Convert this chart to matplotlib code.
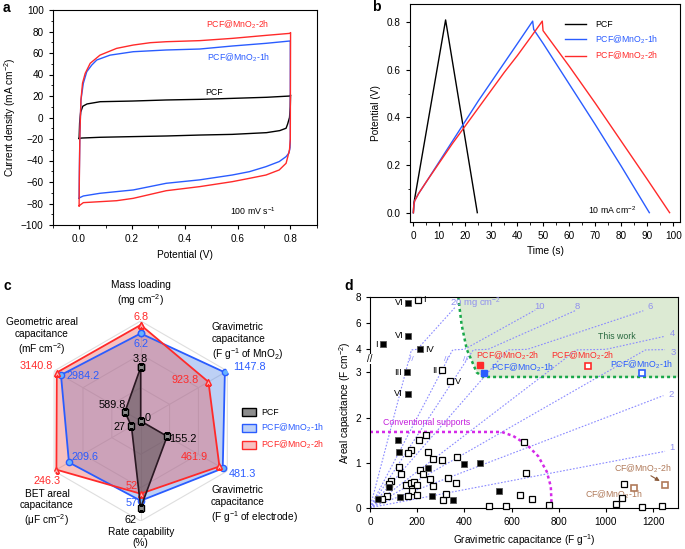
import numpy as np
import matplotlib
matplotlib.use("Agg")
import matplotlib.pyplot as plt
from matplotlib.patches import Patch
from matplotlib.ticker import MultipleLocator

plt.rcParams['font.family'] = ['Liberation Sans', 'DejaVu Sans']
plt.rcParams['mathtext.fontset'] = 'custom'
plt.rcParams['mathtext.rm'] = 'Liberation Sans'
plt.rcParams['mathtext.it'] = 'Liberation Sans:italic'
plt.rcParams['font.size'] = 7.2
plt.rcParams['axes.linewidth'] = 0.8
plt.rcParams['xtick.major.size'] = 3
plt.rcParams['ytick.major.size'] = 3
plt.rcParams['xtick.minor.size'] = 1.8
plt.rcParams['ytick.minor.size'] = 1.8

BLUE = '#2a5cff'
RED = '#ff2a2a'
MN1 = 'PCF@MnO$_2$-1h'
MN2 = 'PCF@MnO$_2$-2h'
LAB = 7.3   # axis label size
ANN = 6.3   # annotation size

# ---- panel a: CV loops at 100 mV/s ----
cv_pcf_x = [0, 0.002, 0.006, 0.014, 0.03, 0.08, 0.2, 0.33, 0.46, 0.58, 0.71, 0.8, 0.801,
            0.8, 0.797, 0.79, 0.784, 0.76, 0.71, 0.58, 0.46, 0.33, 0.2, 0.08, 0.01, 0]
cv_pcf_y = [-19.5, -5, 5, 10.5, 12.6, 14.7, 15.3, 16.3, 16.9, 17.8, 18.8, 20, 21,
            10, 0, -6, -10, -12.2, -14.1, -15.7, -16.3, -17.2, -17.8, -18.4, -19.1, -19.5]
cv_1h_x = [0, 0.001, 0.003, 0.007, 0.016, 0.029, 0.048, 0.067, 0.117, 0.205, 0.33, 0.457, 0.58,
           0.708, 0.8, 0.8, 0.799, 0.795, 0.784, 0.758, 0.708, 0.645, 0.58, 0.457, 0.33, 0.205,
           0.079, 0.016, 0.003, 0]
cv_1h_y = [-75.2, -50, -15, 16.3, 31.8, 42.6, 48.8, 53.5, 58, 61.2, 62.8, 63.7, 66.5,
           69, 71.2, -20, -28, -33, -36.4, -41, -45.7, -50.4, -53.5, -58, -61.2, -67.4,
           -70.5, -73, -74.5, -75.2]
cv_2h_x = [0, 0.001, 0.003, 0.007, 0.013, 0.023, 0.042, 0.079, 0.142, 0.205, 0.27, 0.33, 0.457,
           0.58, 0.708, 0.8, 0.801, 0.8, 0.797, 0.79, 0.784, 0.758, 0.708, 0.645, 0.58, 0.457,
           0.33, 0.205, 0.142, 0.079, 0.016, 0.004, 0]
cv_2h_y = [-82.2, -55, -15, 16.3, 32, 41, 50.4, 58, 64.3, 67.4, 69.6, 70.5, 71.5,
           73.6, 76.4, 78.3, 79, -20, -30, -37, -42.6, -48.8, -53.5, -56.6, -59.7, -64.3,
           -68.1, -75.2, -77.4, -78.3, -79.2, -81.4, -82.2]

# ---- panel b: GCD at 10 mA/cm2 ----
gcd_pcf_t = [0, 0.2, 12.4, 24.6]
gcd_pcf_v = [0, 0.04, 0.81, 0]
gcd_1h_t = [0, 0.15, 0.5, 2, 5, 10, 15, 20, 25, 30, 35, 40, 45.9, 46.3, 50, 60, 70, 80, 90.8]
gcd_1h_v = [0, 0.03, 0.05, 0.08, 0.13, 0.215, 0.3, 0.385, 0.47, 0.55, 0.63, 0.71, 0.805,
            0.77, 0.71, 0.54, 0.37, 0.195, 0]
gcd_2h_t = [0, 0.15, 0.5, 2, 5, 10, 15, 20, 25, 30, 35, 40, 45, 49.6, 49.9, 60, 70, 80, 90, 98.6]
gcd_2h_v = [0, 0.03, 0.05, 0.08, 0.13, 0.21, 0.29, 0.365, 0.44, 0.515, 0.59, 0.66, 0.735,
            0.805, 0.765, 0.615, 0.46, 0.3, 0.14, 0]

# ---- panel c: radar ----
radar_labels = ['Mass loading\n(mg cm$^{-2}$)',
                'Gravimetric\ncapacitance\n(F g$^{-1}$ of MnO$_2$)',
                'Gravimetric\ncapacitance\n(F g$^{-1}$ of electrode)',
                'Rate capability\n(%)',
                'BET areal\ncapacitance\n(\u03bcF cm$^{-2}$)',
                'Geometric areal\ncapacitance\n(mF cm$^{-2}$)']
radar_max = [7.08, 1181, 508, 71.5, 253, 3241]
radar_pcf = [3.8, 0, 155.2, 62, 27, 589.8]
radar_1h = [6.2, 1147.8, 481.3, 57, 209.6, 2984.2]
radar_2h = [6.8, 923.8, 461.9, 52, 246.3, 3140.8]
val_text_pcf = ['3.8', '0', '155.2', '62', '27', '589.8']
val_text_1h = ['6.2', '1147.8', '481.3', '57', '209.6', '2984.2']
val_text_2h = ['6.8', '923.8', '461.9', '52', '246.3', '3140.8']

# ---- panel d: areal vs gravimetric capacitance ----
lit_filled_x = [162, 162, 54, 212, 155, 160, 120, 124, 246, 399, 466, 79, 127, 33, 262, 353, 545]
lit_filled_y = [7.55, 5.05, 4.38, 4.0, 3.0, 2.53, 1.5, 1.23, 0.89, 0.98, 1.0, 0.45, 0.23, 0.2,
                0.25, 0.17, 0.38]
lit_open_x = [205, 306, 339, 237, 208, 174, 163, 246, 268, 307, 367, 124, 130, 213, 226, 88, 82,
              254, 268, 332, 364, 152, 172, 187, 201, 177, 163, 201, 308, 323, 71, 50, 654, 660,
              506, 575, 636, 685, 758, 1041, 1078, 1069, 1151, 1236]
lit_open_y = [7.8, 3.05, 2.8, 1.61, 1.50, 1.29, 1.21, 1.23, 1.09, 1.06, 1.12, 0.91, 0.75, 0.84,
              0.75, 0.60, 0.52, 0.63, 0.49, 0.65, 0.54, 0.51, 0.54, 0.58, 0.50, 0.38, 0.26, 0.28,
              0.17, 0.31, 0.26, 0.19, 1.45, 0.78, 0.03, 0.03, 0.28, 0.20, 0.05, 0.08, 0.53, 0.22,
              0.02, 0.03]
roman_text = ['VI', 'I', 'VI', 'I', 'IV', 'III', 'VI', 'II', 'V']
roman_x = [162, 205, 162, 54, 212, 155, 160, 306, 339]
roman_y = [7.55, 7.8, 5.05, 4.38, 4.0, 3.0, 2.53, 3.05, 2.8]
roman_side = ['l', 'r', 'l', 'l', 'r', 'l', 'l', 'l', 'r']
this_x_elec, this_y_elec = [465, 483], [3.16, 2.99]     # per electrode (2h, 1h)
this_x_mno2, this_y_mno2 = [925, 1152], [3.15, 2.99]    # per MnO2 (2h, 1h)
cf_x, cf_y = [1120, 1251], [0.44, 0.5]
mass_loadings = [1, 2, 3, 4, 6, 8, 10, 20]
mass_end_x = [1250, 1243, 1250, 1250, 1158, 875, 700, 360]
green_x = [374, 388, 410, 431, 452, 480, 1310]
green_y = [8, 5.9, 4.0, 3.26, 3.0, 2.9, 2.9]
conv_x = [0, 558, 607, 664, 713, 749, 766, 770]
conv_y = [1.68, 1.68, 1.59, 1.40, 1.14, 0.80, 0.47, 0]

W, H = 685, 549
fig = plt.figure(figsize=(W / 100, H / 100), dpi=100)


def rect(l, t, r, b):
    return [l / W, 1 - b / H, (r - l) / W, (b - t) / H]


# ================= a =================
ax = fig.add_axes(rect(52.7, 10, 316.7, 225))
ax.plot(cv_pcf_x, cv_pcf_y, color='k', lw=1)
ax.plot(cv_1h_x, cv_1h_y, color=BLUE, lw=1)
ax.plot(cv_2h_x, cv_2h_y, color=RED, lw=1)
ax.set_xlim(-0.1, 0.9)
ax.set_ylim(-100, 100)
ax.set_xticks([0, 0.2, 0.4, 0.6, 0.8])
ax.xaxis.set_minor_locator(MultipleLocator(0.1))
ax.yaxis.set_major_locator(MultipleLocator(20))
ax.yaxis.set_minor_locator(MultipleLocator(10))
ax.set_xlabel('Potential (V)', fontsize=LAB)
ax.set_ylabel('Current density (mA cm$^{-2}$)', fontsize=LAB, labelpad=2)
ax.text(0.6, 86, MN2, color=RED, ha='center', va='center', fontsize=ANN)
ax.text(0.604, 55.3, MN1, color=BLUE, ha='center', va='center', fontsize=ANN)
ax.text(0.513, 22.8, 'PCF', color='k', ha='center', va='center', fontsize=ANN)
ax.text(0.657, -87, '100 mV s$^{-1}$', ha='center', va='center', fontsize=ANN)

# ================= b =================
ax = fig.add_axes(rect(410, 4, 680, 221.7))
ax.plot(gcd_pcf_t, gcd_pcf_v, color='k', lw=1, label='PCF')
ax.plot(gcd_1h_t, gcd_1h_v, color=BLUE, lw=1, label=MN1)
ax.plot(gcd_2h_t, gcd_2h_v, color=RED, lw=1, label=MN2)
ax.set_xlim(-1.3, 102.6)
ax.set_ylim(-0.038, 0.877)
ax.xaxis.set_major_locator(MultipleLocator(10))
ax.xaxis.set_minor_locator(MultipleLocator(5))
ax.yaxis.set_major_locator(MultipleLocator(0.2))
ax.yaxis.set_minor_locator(MultipleLocator(0.1))
ax.set_xlabel('Time (s)', fontsize=LAB)
ax.set_ylabel('Potential (V)', fontsize=LAB)
ax.text(76.4, 0.012, '10 mA cm$^{-2}$', ha='center', va='center', fontsize=ANN)
leg = ax.legend(loc='upper left', bbox_to_anchor=(561 / W, 1 - 16 / H),
                bbox_transform=fig.transFigure, frameon=False, fontsize=ANN,
                handlelength=2.4, labelspacing=0.45, borderpad=0, handletextpad=1.0)
for txt, c in zip(leg.get_texts(), ['k', BLUE, RED]):
    txt.set_color(c)

# ================= c =================
cx, cy, R = 140.7, 421, 100
axr = fig.add_axes(rect(cx - R, cy - R, cx + R, cy + R), projection='polar')
axr.set_theta_zero_location('N')
axr.set_theta_direction(-1)
axr.set_ylim(0, 1)
axr.axis('off')
ang = np.deg2rad(np.arange(6) * 60.0)
ang_c = np.append(ang, ang[0])
for rr in [1 / 3, 2 / 3, 1.0]:
    axr.plot(ang_c, [rr] * 7, color='#dedede', lw=0.8, zorder=1)
for a in ang:
    axr.plot([a, a], [0, 1], color='#dedede', lw=0.8, zorder=1)


def norm(vals):
    return np.append(np.array(vals) / np.array(radar_max), vals[0] / radar_max[0])


r_pcf, r_1h, r_2h = norm(radar_pcf), norm(radar_1h), norm(radar_2h)
axr.fill(ang_c, r_1h, color='#5a8ae8', alpha=0.4, lw=0, zorder=2)
axr.fill(ang_c, r_2h, color='#e95350', alpha=0.36, lw=0, zorder=3)
axr.fill(ang_c, r_pcf, color='#3c3c3c', alpha=0.45, lw=0, zorder=4)
axr.plot(ang_c, r_1h, color=BLUE, lw=1.3, marker='o', ms=4.5, mfc='#66b3ff', mec=BLUE, zorder=5)
axr.plot(ang_c, r_2h, color=RED, lw=1.3, marker='^', ms=5, mfc='#ffb0b0', mec=RED, zorder=6)
axr.plot(ang_c, r_pcf, color='#2a1822', lw=1.2, marker='s', ms=4.5, mfc='#8c8c8c', mec='k', zorder=7)

off_pcf = [(0, 8.3), (7, 3), (16, -2.3), (-10, -12.7), (-12.3, -0.7), (-12.3, 7.4)]
off_1h = [(0, -10.7), (24.4, 5), (19.4, -5.3), (-9.3, -2.3), (16.3, 5.3), (22.6, -0.7)]
off_2h = [(0, 8.3), (-23, 1.6), (-25.3, 9), (-9.3, 7.7), (-9.3, -11), (-20, 7)]
for rs, texts, offs, col in [(r_pcf, val_text_pcf, off_pcf, 'k'),
                             (r_1h, val_text_1h, off_1h, BLUE),
                             (r_2h, val_text_2h, off_2h, RED)]:
    for i in range(6):
        axr.annotate(texts[i], xy=(ang[i], rs[i]), xytext=offs[i], textcoords='offset pixels',
                     ha='center', va='center', color=col, fontsize=7.8, zorder=8)

lab_ang = [0, 42, 140, 180, 227, 310.4]
lab_r = [1.27, 1.064, 1.095, 1.165, 1.282, 1.296]
lab_ha = ['center', 'left', 'left', 'center', 'center', 'center']
for i in range(6):
    axr.text(np.deg2rad(lab_ang[i]), lab_r[i], radar_labels[i], ha=lab_ha[i], va='center',
             fontsize=LAB, linespacing=1.2)

handles = [Patch(fc='#8c8c8c', ec='k', lw=1),
           Patch(fc='#bcd0f6', ec=BLUE, lw=1),
           Patch(fc='#f7c0c0', ec=RED, lw=1)]
leg = fig.legend(handles, ['PCF', MN1, MN2], loc='upper left',
                 bbox_to_anchor=(238 / W, 1 - 404 / H), frameon=False, fontsize=ANN,
                 handlelength=1.5, handleheight=1.0, labelspacing=0.5, borderpad=0,
                 handletextpad=0.6)
for txt, c in zip(leg.get_texts(), ['k', BLUE, RED]):
    txt.set_color(c)

# ================= d =================
brk_in = [-10, 3.5, 4, 20]
brk_out = [-10, 3.5, 3.513, 3.513 + 16 * 13 / 44.8]


def fwd(y):
    return np.interp(y, brk_in, brk_out)


def inv(v):
    return np.interp(v, brk_out, brk_in)


ax = fig.add_axes(rect(370, 297, 678, 507.7))
ax.set_yscale('function', functions=(fwd, inv))
ax.set_xlim(0, 1305)
ax.set_ylim(0, 8)
ax.set_yticks([0, 1, 2, 3, 4, 6, 8])
ax.set_xticks([0, 200, 400, 600, 800, 1000, 1200])
ax.yaxis.set_minor_locator(matplotlib.ticker.NullLocator())

ax.fill_between(green_x, green_y, 8, color='#dcead3', lw=0, zorder=0)
ax.plot(green_x, green_y, color='#1aa84a', ls=(0, (1.2, 1.2)), lw=1.8, zorder=2)
ax.plot(conv_x, conv_y, color='#d42ae8', ls=(0, (1.2, 1.2)), lw=1.8, zorder=2)
ax.text(57, 1.8, 'Conventional supports', color='#c41fdc', fontsize=ANN, va='bottom')
ax.text(1045, 4.98, 'This work', color='#2a6a40', fontsize=ANN, ha='center', va='center')

for m, xe in zip(mass_loadings, mass_end_x):
    xs = np.linspace(0, xe, 200)
    ax.plot(xs, m * xs / 1000.0, color='#8a8aff', ls=(0, (1.5, 1.5)), lw=0.8, zorder=1)
ml_lab_x = [1278, 1278, 1285, 1283, 1188, 878, 720, 339]
ml_lab_y = [1.33, 2.5, 3.44, 5.2, 7.3, 7.3, 7.3, 7.5]
ml_lab = ['1', '2', '3', '4', '6', '8', '10', '20 mg cm$^{-2}$']
for xt, yt, t in zip(ml_lab_x, ml_lab_y, ml_lab):
    ax.text(xt, yt, t, color='#9090ee', fontsize=ANN + 0.5,
            ha='left' if t.startswith('20') else 'center', va='center')
for xb in [176, 325, 402]:
    ax.text(xb, 3.28, '//', color='#8a8aff', fontsize=6, ha='center', va='center')
ax.text(0, 3.3, '//', color='k', fontsize=7, ha='center', va='center', clip_on=False,
        bbox=dict(fc='white', ec='none', pad=0.2))

ax.plot(lit_open_x, lit_open_y, 's', ms=4, mfc='white', mec='k', mew=0.9, zorder=4, clip_on=False)
ax.plot(lit_filled_x, lit_filled_y, 's', ms=4, mfc='k', mec='#555555', mew=0.6, zorder=4)
for t, xx, yy, sd in zip(roman_text, roman_x, roman_y, roman_side):
    ax.annotate(t, xy=(xx, yy), xytext=(-5 if sd == 'l' else 5, 0), textcoords='offset pixels',
                ha='right' if sd == 'l' else 'left', va='center', fontsize=ANN + 0.4)

ax.plot(this_x_elec[0], this_y_elec[0], 's', ms=4.5, color=RED, zorder=5)
ax.plot(this_x_elec[1], this_y_elec[1], 's', ms=4.5, color=BLUE, zorder=5)
ax.plot(this_x_mno2[0], this_y_mno2[0], 's', ms=4.5, mfc='white', mec=RED, mew=1.2, zorder=5)
ax.plot(this_x_mno2[1], this_y_mno2[1], 's', ms=4.5, mfc='white', mec=BLUE, mew=1.2, zorder=5)
ax.plot(cf_x, cf_y, 's', ms=4.5, mfc='white', mec='#b07a5a', mew=1.2, zorder=5)
ax.text(449, 3.37, MN2, color=RED, fontsize=ANN, ha='left', va='center')
ax.text(511, 3.1, MN1, color=BLUE, fontsize=ANN, ha='left', va='center')
ax.text(900, 3.37, MN2, color=RED, fontsize=ANN, ha='center', va='center')
ax.text(1150, 3.18, MN1, color=BLUE, fontsize=ANN, ha='center', va='center')
ax.text(1154, 0.87, 'CF@MnO$_2$-2h', color='#b07a5a', fontsize=ANN, ha='center', va='center')
ax.text(1031, 0.28, 'CF@MnO$_2$-1h', color='#b07a5a', fontsize=ANN, ha='center', va='center')
ax.annotate('', xy=(1238, 0.56), xytext=(1180, 0.74),
            arrowprops=dict(arrowstyle='-|>', color='#8a5a3a', lw=0.8, mutation_scale=6))
ax.set_xlabel('Gravimetric capacitance (F g$^{-1}$)', fontsize=LAB)
ax.set_ylabel('Areal capacitance (F cm$^{-2}$)', fontsize=LAB, labelpad=2)

for lbl, (px, py) in zip('abcd', [(3, 8), (372, 7), (3, 286), (344, 286)]):
    fig.text(px / W, 1 - py / H, lbl, fontsize=10, fontweight='bold', ha='left', va='center')

fig.savefig('out.png', dpi=100)
